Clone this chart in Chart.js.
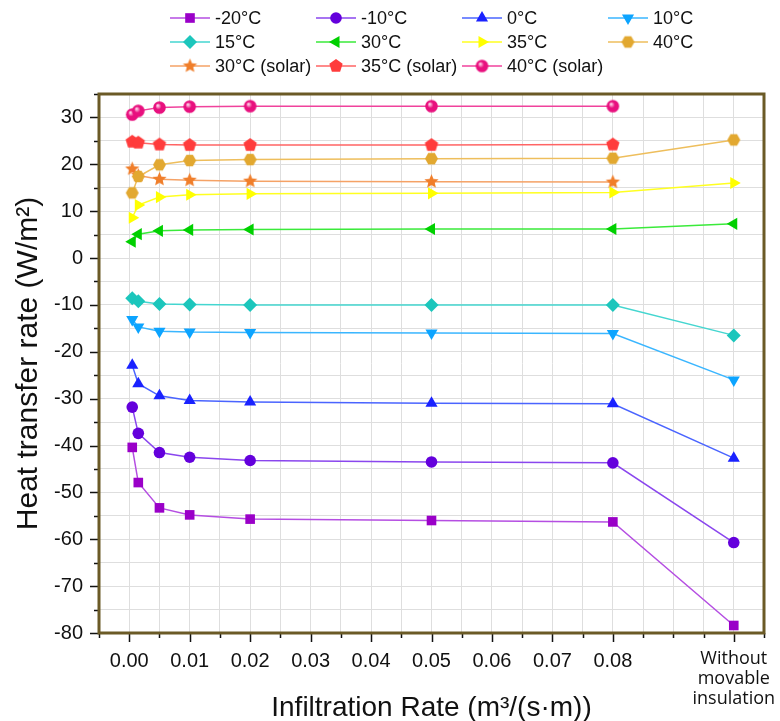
<!DOCTYPE html>
<html>
<head>
<meta charset="utf-8">
<script src="https://cdn.jsdelivr.net/npm/chart.js@4.4.1/dist/chart.umd.min.js"></script>
<style>
  html, body { margin: 0; padding: 0; background: #fff; }
</style>
</head>
<body>
<canvas id="canvas" width="780" height="721"></canvas>
<script>
// infiltration rates, m3/(s·m); 0.1 is the "without movable insulation" slot
const rates = [0.0005, 0.0015, 0.005, 0.01, 0.02, 0.05, 0.08, 0.1];

// heat transfer rate (W/m2) per outdoor temperature
const tMinus20 = [-40.4, -47.9, -53.3, -54.8, -55.7, -56.0, -56.3, -78.4];
const tMinus10 = [-31.8, -37.4, -41.5, -42.5, -43.2, -43.5, -43.7, -60.7];
const t0 = [-22.9, -26.8, -29.4, -30.4, -30.7, -31.0, -31.1, -42.7];
const t10 = [-13.1, -14.7, -15.6, -15.8, -15.9, -16.0, -16.1, -26.0];
const t15 = [-8.6, -9.2, -9.8, -9.9, -10.0, -10.0, -10.0, -16.5];
const t30 = [3.5, 5.1, 5.8, 6.0, 6.1, 6.2, 6.2, 7.3];
const t35 = [8.6, 11.3, 13.0, 13.5, 13.7, 13.8, 14.0, 16.0];
const t40 = [13.9, 17.4, 19.9, 20.8, 21.0, 21.2, 21.3, 25.2];
// solar cases have no "without" point
const t30solar = [19.0, 17.6, 16.8, 16.6, 16.4, 16.3, 16.2];
const t35solar = [24.8, 24.6, 24.2, 24.1, 24.1, 24.1, 24.2];
const t40solar = [30.6, 31.4, 32.1, 32.3, 32.4, 32.4, 32.4];

const seriesNames = ['-20°C', '-10°C', '0°C', '10°C', '15°C', '30°C', '35°C', '40°C',
  '30°C (solar)', '35°C (solar)', '40°C (solar)'];

const xTickValues = [0, 0.01, 0.02, 0.03, 0.04, 0.05, 0.06, 0.07, 0.08];
const withoutLabel = ['Without', 'movable', 'insulation'];

const FONT = 'Liberation Sans, Arial, sans-serif';

// small canvases for marker shapes chart.js doesn't have
function polygonMarker(n, r, color, inner, rot) {
  const s = Math.ceil(r * 2 + 2);
  const c = document.createElement('canvas');
  c.width = s; c.height = s;
  const g = c.getContext('2d');
  g.beginPath();
  const pts = inner ? n * 2 : n;
  for (let i = 0; i < pts; i++) {
    const ang = -Math.PI / 2 + (rot || 0) + i * 2 * Math.PI / pts;
    const rr = inner && i % 2 ? r * inner : r;
    const px = s / 2 + rr * Math.cos(ang), py = s / 2 + rr * Math.sin(ang);
    if (i === 0) g.moveTo(px, py); else g.lineTo(px, py);
  }
  g.closePath();
  g.fillStyle = color;
  g.fill();
  return c;
}

function ballMarker(r, color) {
  const s = Math.ceil(r * 2 + 2);
  const c = document.createElement('canvas');
  c.width = s; c.height = s;
  const g = c.getContext('2d');
  const grad = g.createRadialGradient(s / 2 - r * 0.3, s / 2 - r * 0.35, 0.5, s / 2, s / 2, r);
  grad.addColorStop(0, '#ffd6ea');
  grad.addColorStop(0.45, color);
  grad.addColorStop(1, color);
  g.beginPath();
  g.arc(s / 2, s / 2, r, 0, Math.PI * 2);
  g.fillStyle = grad;
  g.fill();
  return c;
}

const styles = [
  { mark: '#9a00c8', line: '#b54ee2', pointStyle: 'rect', radius: 6.8 },
  { mark: '#6400dc', line: '#8a46ee', pointStyle: 'circle', radius: 5.8 },
  { mark: '#1a22ff', line: '#4a64ff', pointStyle: 'triangle', radius: 7 },
  { mark: '#0ca4ff', line: '#3ab6ff', pointStyle: 'triangle', rotation: 180, radius: 7 },
  { mark: '#1cc6bc', line: '#44d6d0', pointStyle: 'rectRot', radius: 7 },
  { mark: '#00d000', line: '#3aea3a', pointStyle: 'triangle', rotation: -90, radius: 7 },
  { mark: '#ffff00', line: '#ffff20', pointStyle: 'triangle', rotation: 90, radius: 7 },
  { mark: '#e2a830', line: '#eebe5c', pointStyle: polygonMarker(6, 6.5, '#e2a830', 0, Math.PI / 6), radius: 6 },
  { mark: '#f07e2a', line: '#f5a266', pointStyle: polygonMarker(5, 7.5, '#f07e2a', 0.45), radius: 6 },
  { mark: '#ff3c3c', line: '#ff6464', pointStyle: polygonMarker(5, 7, '#ff3c3c'), radius: 6 },
  { mark: '#e8107e', line: '#f0429c', pointStyle: ballMarker(6.3, '#e8107e'), radius: 6 }
];

const allSeries = [tMinus20, tMinus10, t0, t10, t15, t30, t35, t40, t30solar, t35solar, t40solar];

const datasets = allSeries.map(function(vals, i) {
  const st = styles[i];
  return {
    label: seriesNames[i],
    data: vals.map(function(v, j) { return { x: rates[j], y: v }; }),
    borderColor: st.line,
    backgroundColor: st.mark,
    pointBackgroundColor: st.mark,
    pointBorderColor: st.mark,
    pointBorderWidth: 0,
    borderWidth: 1.5,
    pointStyle: st.pointStyle,
    pointRotation: st.rotation || 0,
    pointRadius: st.radius,
    tension: 0
  };
});

function isMajorX(v) {
  const k = Math.round(v * 1000);
  return (k % 10 === 0 && k >= 0 && k <= 80) || k === 100;
}
function isMajorY(v) {
  return Math.round(v) % 10 === 0;
}

// grid-style legend at the top, 4 columns
const gridLegend = {
  id: 'gridLegend',
  afterDraw(chart) {
    const ctx = chart.ctx;
    const colX = [170, 316, 462, 608];
    const rowY = [18, 42, 66];
    ctx.save();
    chart.data.datasets.forEach(function(ds, i) {
      const x0 = colX[i % 4], y = rowY[Math.floor(i / 4)];
      ctx.strokeStyle = ds.borderColor;
      ctx.lineWidth = 1.5;
      ctx.beginPath();
      ctx.moveTo(x0, y);
      ctx.lineTo(x0 + 40, y);
      ctx.stroke();
      ctx.fillStyle = ds.pointBackgroundColor;
      ctx.strokeStyle = ds.pointBackgroundColor;
      Chart.helpers.drawPoint(ctx, {
        pointStyle: ds.pointStyle, rotation: ds.pointRotation,
        radius: ds.pointRadius, borderWidth: 0
      }, x0 + 20, y);
      ctx.fillStyle = '#111';
      ctx.font = '18px ' + FONT;
      ctx.textBaseline = 'middle';
      ctx.textAlign = 'left';
      ctx.fillText(ds.label, x0 + 45, y + 1);
    });
    ctx.restore();
  }
};

// tick marks (long at labels, short between) and the box frame
const frameTicks = {
  id: 'frameTicks',
  afterDraw(chart) {
    const ctx = chart.ctx, a = chart.chartArea;
    const xs = chart.scales.x, ys = chart.scales.y;
    ctx.save();
    ctx.strokeStyle = '#111';
    ctx.lineWidth = 1.5;
    ctx.beginPath();
    xs.ticks.forEach(function(t) {
      const px = Math.round(xs.getPixelForValue(t.value)) + 0.5;
      const len = isMajorX(t.value) ? 9 : 5;
      ctx.moveTo(px, a.bottom);
      ctx.lineTo(px, a.bottom + len);
    });
    ys.ticks.forEach(function(t) {
      const py = Math.round(ys.getPixelForValue(t.value)) + 0.5;
      const len = isMajorY(t.value) ? 9 : 5;
      ctx.moveTo(a.left, py);
      ctx.lineTo(a.left - len, py);
    });
    ctx.stroke();
    ctx.strokeStyle = '#6b5a26';
    ctx.lineWidth = 3;
    ctx.strokeRect(a.left, a.top, a.right - a.left, a.bottom - a.top);
    ctx.restore();
  }
};

new Chart(document.getElementById('canvas'), {
  type: 'line',
  data: { datasets: datasets },
  plugins: [gridLegend, frameTicks],
  options: {
    responsive: false,
    animation: false,
    layout: { padding: { top: 94, right: 12, left: 0, bottom: 0 } },
    plugins: { legend: { display: false }, tooltip: { enabled: false } },
    scales: {
      x: {
        type: 'linear',
        min: -0.005,
        max: 0.105,
        afterFit: function(s) { s.height = 88; },
        grid: { color: '#dedede', lineWidth: 1, drawTicks: false },
        border: { display: false },
        ticks: {
          stepSize: 0.005,
          autoSkip: false,
          maxRotation: 0,
          padding: 16,
          color: '#111',
          font: function(c) {
            if (c.tick && Math.round(c.tick.value * 1000) === 100) {
              return { family: 'Open Sans, Noto Sans, sans-serif', size: 18, lineHeight: '20px' };
            }
            return { family: FONT, size: 20 };
          },
          callback: function(v) {
            const k = Math.round(v * 1000);
            if (k === 100) return withoutLabel;
            if (xTickValues.some(function(t) { return Math.round(t * 1000) === k; })) return (k / 1000).toFixed(2);
            return '';
          }
        },
        title: {
          display: true,
          text: 'Infiltration Rate (m³/(s·m))',
          color: '#111',
          font: { family: FONT, size: 28 },
          padding: { top: 0, bottom: -4 }
        }
      },
      y: {
        min: -80,
        max: 35,
        afterFit: function(s) { s.width = 99; },
        grid: { color: '#dedede', lineWidth: 1, drawTicks: false },
        border: { display: false },
        ticks: {
          stepSize: 5,
          autoSkip: false,
          padding: 16,
          color: '#111',
          font: { family: FONT, size: 20 },
          callback: function(v) { return isMajorY(v) ? String(Math.round(v)) : ''; }
        },
        title: {
          display: true,
          text: 'Heat transfer rate (W/m²)',
          color: '#111',
          font: { family: FONT, size: 30 },
          padding: { top: 11, bottom: 0 }
        }
      }
    }
  }
});
</script>
</body>
</html>
